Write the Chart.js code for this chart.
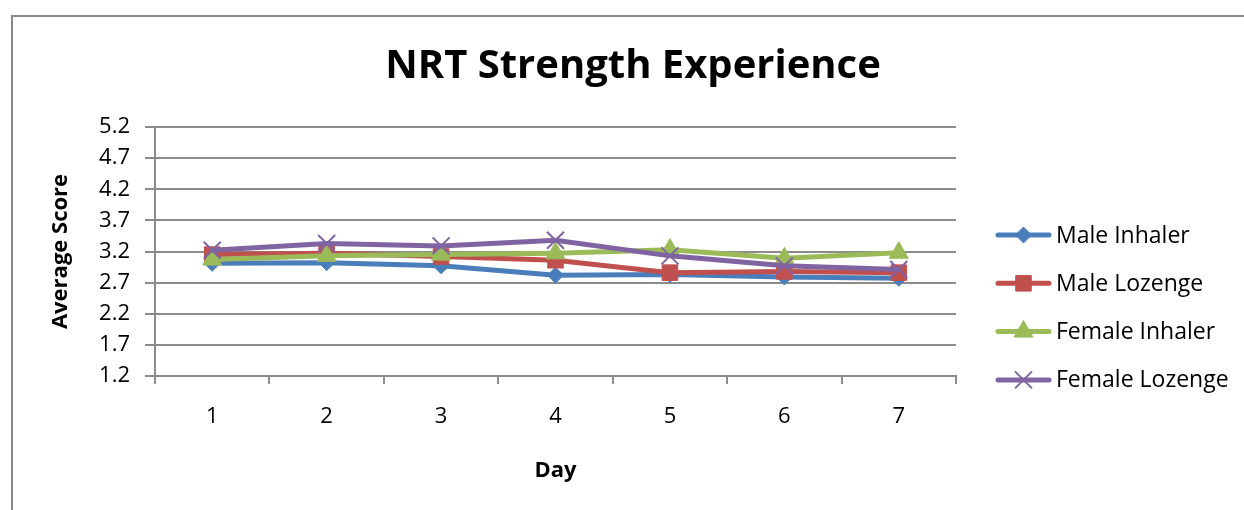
<!DOCTYPE html>
<html>
<head>
<meta charset="utf-8">
<script src="https://cdn.jsdelivr.net/npm/chart.js@4/dist/chart.umd.min.js"></script>
<style>
  html, body { margin: 0; padding: 0; background: #ffffff; }
  #wrap { width: 1244px; height: 510px; position: relative; }
</style>
</head>
<body>
<div id="wrap"><canvas id="c" width="1244" height="510"></canvas></div>
<script>
// Days on the x axis
const days = ['1', '2', '3', '4', '5', '6', '7'];

// Average score per day for each group
const maleInhaler    = [3.01, 3.02, 2.97, 2.82, 2.83, 2.79, 2.77];
const maleLozenge    = [3.15, 3.17, 3.12, 3.06, 2.86, 2.88, 2.86];
const femaleInhaler  = [3.07, 3.13, 3.15, 3.17, 3.23, 3.09, 3.18];
const femaleLozenge  = [3.22, 3.33, 3.29, 3.38, 3.13, 2.97, 2.91];

// Value axis ticks
const yTicks = [1.2, 1.7, 2.2, 2.7, 3.2, 3.7, 4.2, 4.7, 5.2];

const chartTitle = 'NRT Strength Experience';
const FONT = "'Open Sans', 'DejaVu Sans', sans-serif";
const GRID = '#8c8c8c';

// Outer frame of the chart object
const framePlugin = {
  id: 'frame',
  beforeDraw(chart) {
    const ctx = chart.ctx;
    ctx.save();
    ctx.fillStyle = '#ffffff';
    ctx.fillRect(0, 0, chart.width, chart.height);
    ctx.strokeStyle = '#8a8a8a';
    ctx.lineWidth = 2;
    ctx.beginPath();
    ctx.moveTo(12, chart.height);
    ctx.lineTo(12, 16);
    ctx.lineTo(chart.width, 16);
    ctx.stroke();
    ctx.restore();
  }
};

// Centered heading above the plot
const headingPlugin = {
  id: 'heading',
  afterDraw(chart) {
    const ctx = chart.ctx;
    ctx.save();
    ctx.fillStyle = '#000000';
    ctx.font = 'bold 40px ' + FONT;
    ctx.textAlign = 'center';
    ctx.textBaseline = 'middle';
    ctx.fillText(chartTitle, 633, 67);
    ctx.restore();
  }
};

// Legend on the right: line sample with its marker, then the series name
const sideLegendPlugin = {
  id: 'sideLegend',
  afterDraw(chart) {
    const ctx = chart.ctx;
    ctx.save();
    chart.data.datasets.forEach((ds, i) => {
      const y = 235 + 48.3 * i;
      ctx.strokeStyle = ds.borderColor;
      ctx.lineWidth = ds.borderWidth;
      ctx.lineCap = 'round';
      ctx.beginPath();
      ctx.moveTo(998, y);
      ctx.lineTo(1049, y);
      ctx.stroke();
      ctx.lineCap = 'butt';
      ctx.fillStyle = ds.pointBackgroundColor;
      ctx.strokeStyle = ds.pointBorderColor;
      ctx.lineWidth = ds.pointBorderWidth;
      Chart.helpers.drawPoint(ctx, {
        pointStyle: ds.pointStyle,
        rotation: 0,
        radius: ds.pointRadius,
        borderWidth: ds.pointBorderWidth
      }, 1023.5, y);
      ctx.fillStyle = '#000000';
      ctx.font = '23px ' + FONT;
      ctx.textAlign = 'left';
      ctx.textBaseline = 'middle';
      ctx.fillText(ds.label, 1056, y + 1);
    });
    ctx.restore();
  }
};

function series(label, data, color, style, radius, order) {
  return {
    label: label,
    data: data,
    borderColor: color,
    backgroundColor: color,
    borderWidth: 5,
    tension: 0,
    pointStyle: style,
    pointRadius: radius,
    pointHoverRadius: radius,
    pointBackgroundColor: color,
    pointBorderColor: color,
    pointBorderWidth: style === 'crossRot' ? 2 : 1,
    order: order
  };
}

new Chart(document.getElementById('c'), {
  type: 'line',
  data: {
    labels: days,
    datasets: [
      series('Male Inhaler',   maleInhaler,   '#4a7ebb', 'rectRot',  8,  4),
      series('Male Lozenge',   maleLozenge,   '#c0504d', 'rect',     11, 3),
      series('Female Inhaler', femaleInhaler, '#9bbb59', 'triangle', 11, 2),
      series('Female Lozenge', femaleLozenge, '#8064a2', 'crossRot', 12, 1)
    ]
  },
  plugins: [framePlugin, headingPlugin, sideLegendPlugin],
  options: {
    responsive: false,
    animation: false,
    events: [],
    layout: { padding: { top: 127, left: 0, right: 288, bottom: 0 } },
    plugins: {
      legend: { display: false },
      title: { display: false },
      tooltip: { enabled: false }
    },
    scales: {
      x: {
        type: 'category',
        offset: true,
        afterFit(scale) { scale.height = 134; },
        grid: {
          offset: true,
          drawOnChartArea: false,
          drawTicks: true,
          tickLength: 8,
          color: GRID,
          lineWidth: 2
        },
        border: { display: true, color: GRID, width: 2 },
        ticks: {
          color: '#000000',
          padding: 20,
          font: { family: FONT, size: 22 }
        },
        title: {
          display: true,
          text: 'Day',
          color: '#000000',
          font: { family: FONT, size: 22, weight: 'bold' },
          padding: { top: 0, bottom: 26 }
        }
      },
      y: {
        min: 1.2,
        max: 5.2,
        afterFit(scale) { scale.width = 155; },
        afterBuildTicks(scale) { scale.ticks = yTicks.map(v => ({ value: v })); },
        grid: {
          color: GRID,
          lineWidth: 2,
          drawTicks: true,
          tickLength: 10
        },
        border: { display: true, color: GRID, width: 2 },
        ticks: {
          color: '#000000',
          padding: 15,
          font: { family: FONT, size: 22 },
          callback: (v) => Number(v).toFixed(1)
        },
        title: {
          display: true,
          text: 'Average Score',
          color: '#000000',
          font: { family: FONT, size: 22, weight: 'bold' },
          padding: { top: 48, bottom: 0 }
        }
      }
    }
  }
});
</script>
</body>
</html>
